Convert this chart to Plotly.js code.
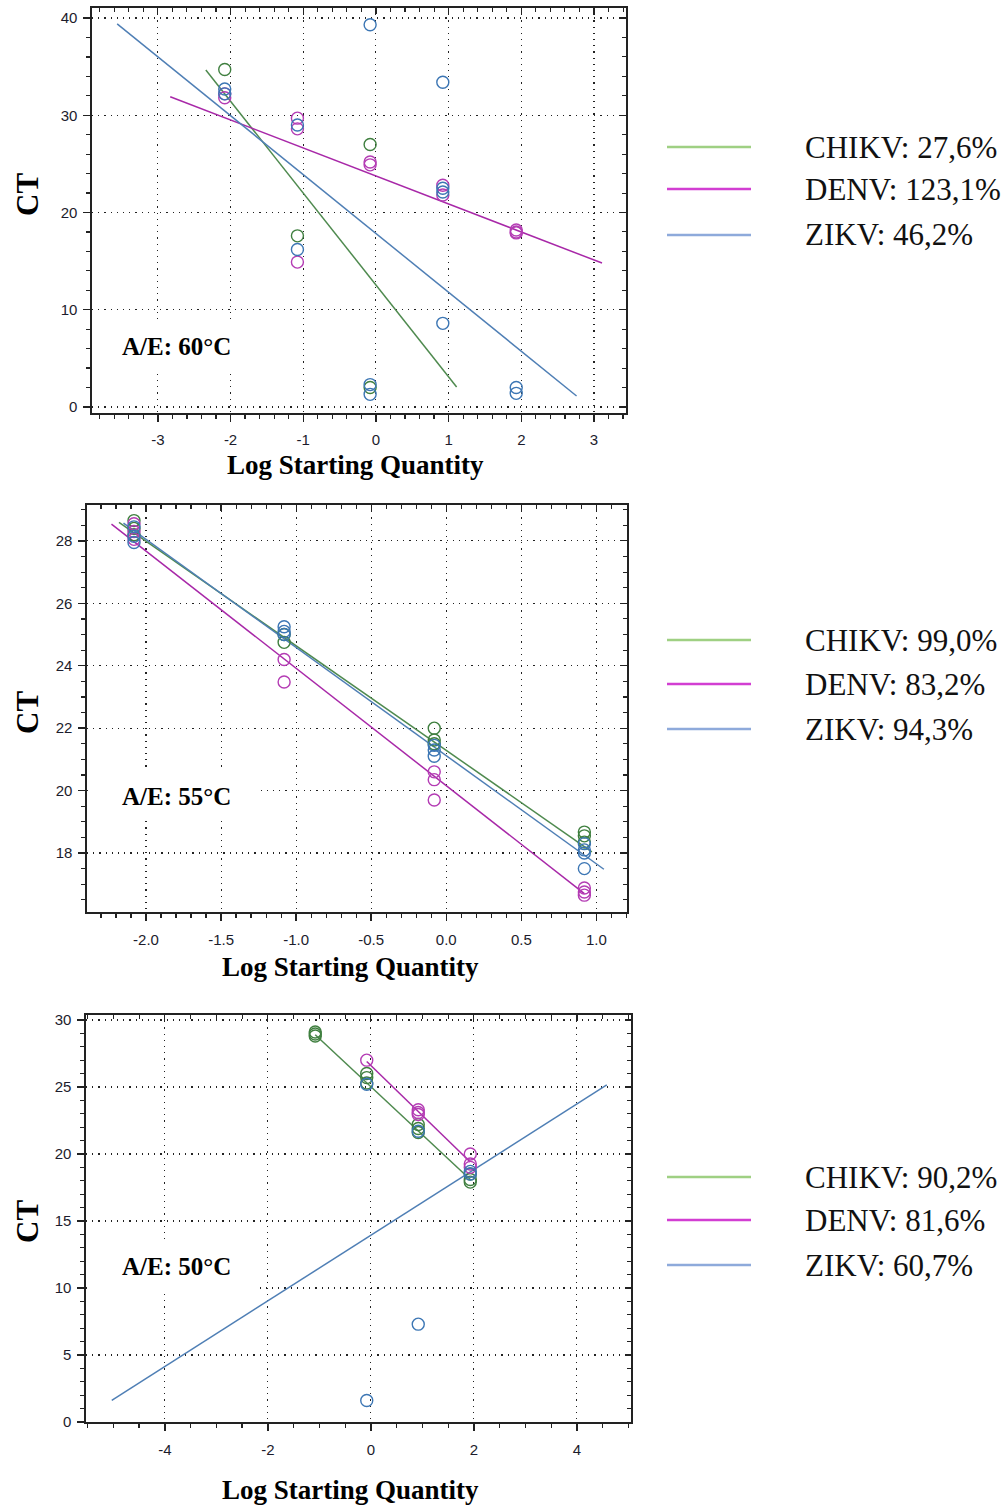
<!DOCTYPE html>
<html>
<head>
<meta charset="utf-8">
<script src="https://cdn.plot.ly/plotly-3.0.1.min.js"></script>
<style>html,body{margin:0;padding:0;background:#fff;}#chart{width:1008px;height:1506px;}</style>
</head>
<body>
<div id="chart"></div>
<script>
// ---------- DATA ----------
// Panel A/E 60°C
const p60ChikvX = [-2.08, -1.08, -0.08, -0.08];
const p60ChikvY = [34.7, 17.6, 27.0, 2.0];
const p60DenvX = [-2.08, -2.08, -1.08, -1.08, -1.08, -0.08, -0.08, 0.92, 0.92, 1.93, 1.93, 1.93];
const p60DenvY = [31.8, 32.2, 29.7, 28.6, 14.9, 25.2, 24.9, 22.8, 21.8, 18.2, 17.9, 18.0];
const p60ZikvX = [-2.08, -2.08, -1.08, -1.08, -0.08, -0.08, -0.08, 0.92, 0.92, 0.92, 0.92, 1.93, 1.93];
const p60ZikvY = [32.7, 32.2, 29.0, 16.2, 39.3, 2.3, 1.3, 33.4, 22.5, 22.1, 8.6, 2.0, 1.4];
const p60ChikvFitX = [-2.34, 1.11];
const p60ChikvFitY = [34.65, 2.06];
const p60DenvFitX = [-2.83, 3.11];
const p60DenvFitY = [31.9, 14.8];
const p60ZikvFitX = [-3.56, 2.76];
const p60ZikvFitY = [39.4, 1.13];

// Panel A/E 55°C
const p55ChikvX = [-2.08, -2.08, -2.08, -1.08, -1.08, -0.08, -0.08, -0.08, 0.92, 0.92, 0.92];
const p55ChikvY = [28.65, 28.4, 28.2, 25.0, 24.75, 22.0, 21.62, 21.5, 18.67, 18.55, 18.35];
const p55DenvX = [-2.08, -2.08, -2.08, -1.08, -1.08, -0.08, -0.08, -0.08, 0.92, 0.92, 0.92];
const p55DenvY = [28.55, 28.3, 28.05, 24.2, 23.48, 20.6, 20.35, 19.7, 16.88, 16.75, 16.65];
const p55ZikvX = [-2.08, -2.08, -2.08, -1.08, -1.08, -1.08, -0.08, -0.08, -0.08, 0.92, 0.92, 0.92, 0.92];
const p55ZikvY = [28.45, 28.15, 27.95, 25.25, 25.1, 25.0, 21.45, 21.3, 21.1, 18.3, 18.1, 18.0, 17.5];
const p55ChikvFitX = [-2.18, 0.97];
const p55ChikvFitY = [28.59, 18.04];
const p55DenvFitX = [-2.23, 0.92];
const p55DenvFitY = [28.54, 16.7];
const p55ZikvFitX = [-2.15, 1.05];
const p55ZikvFitY = [28.57, 17.48];

// Panel A/E 50°C
const p50ChikvX = [-1.08, -1.08, -1.08, -0.08, -0.08, -0.08, 0.92, 0.92, 0.92, 1.93, 1.93, 1.93];
const p50ChikvY = [29.1, 28.95, 28.8, 26.0, 25.7, 25.3, 22.2, 21.9, 21.6, 18.5, 18.1, 17.9];
const p50DenvX = [-0.08, 0.92, 0.92, 0.92, 1.93, 1.93, 1.93];
const p50DenvY = [27.0, 23.3, 23.1, 22.95, 20.0, 19.25, 19.0];
const p50ZikvX = [-0.08, -0.08, 0.92, 0.92, 1.93, 1.93];
const p50ZikvY = [1.6, 25.2, 7.3, 21.7, 18.7, 18.5];
const p50ChikvFitX = [-1.08, 1.93];
const p50ChikvFitY = [28.9, 18.1];
const p50DenvFitX = [-0.08, 1.93];
const p50DenvFitY = [26.9, 19.4];
const p50ZikvFitX = [-5.03, 4.58];
const p50ZikvFitY = [1.62, 25.15];

// Legend texts
const legend60 = ['CHIKV: 27,6%', 'DENV: 123,1%', 'ZIKV: 46,2%'];
const legend55 = ['CHIKV: 99,0%', 'DENV: 83,2%', 'ZIKV: 94,3%'];
const legend50 = ['CHIKV: 90,2%', 'DENV: 81,6%', 'ZIKV: 60,7%'];
const panelLabels = ['A/E: 60°C', 'A/E: 55°C', 'A/E: 50°C'];

// Tick values / labels
const t60X = [-3, -2, -1, 0, 1, 2, 3];
const t60XLab = ['-3', '-2', '-1', '0', '1', '2', '3'];
const t60Y = [0, 10, 20, 30, 40];
const t60YLab = ['0', '10', '20', '30', '40'];
const t55X = [-2.0, -1.5, -1.0, -0.5, 0.0, 0.5, 1.0];
const t55XLab = ['-2.0', '-1.5', '-1.0', '-0.5', '0.0', '0.5', '1.0'];
const t55Y = [18, 20, 22, 24, 26, 28];
const t55YLab = ['18', '20', '22', '24', '26', '28'];
const t50X = [-4, -2, 0, 2, 4];
const t50XLab = ['-4', '-2', '0', '2', '4'];
const t50Y = [0, 5, 10, 15, 20, 25, 30];
const t50YLab = ['0', '5', '10', '15', '20', '25', '30'];

// ---------- STYLE ----------
const W = 1008, H = 1506;
const px = v => v / W;
const py = v => 1 - v / H;

const ptCol = ['#3f7f3f', '#b43cb4', '#3c76b4'];
const lnCol = ['#4f8a4f', '#a828a8', '#4f7fb5'];
const lgCol = ['#9fd083', '#d23ed2', '#8eaadb'];
const tickFont = {family: 'Liberation Sans Narrow, Arial Narrow, Liberation Sans, sans-serif', size: 15, color: '#1c1c2c'};
const serif = 'Liberation Serif, Times New Roman, serif';

const panels = [
  {left: 92, xd: [px(92), px(626)], yd: [py(413), py(8)], xr: [-3.906, 3.44], yr: [-0.62, 41.03],
   tx: t60X, txl: t60XLab, ty: t60Y, tyl: t60YLab, mx: 0.2, my: 2,
   pts: [[p60ChikvX, p60ChikvY], [p60DenvX, p60DenvY], [p60ZikvX, p60ZikvY]],
   fits: [[p60ChikvFitX, p60ChikvFitY], [p60DenvFitX, p60DenvFitY], [p60ZikvFitX, p60ZikvFitY]],
   legend: legend60, legY: [147, 189, 235], box: [322, 370], ctY: 195, lsqY: 465, lsqX: 355, xstand: 5},
  {left: 87, xd: [px(87), px(627)], yd: [py(912), py(505)], xr: [-2.393, 1.204], yr: [16.11, 29.15],
   tx: t55X, txl: t55XLab, ty: t55Y, tyl: t55YLab, mx: 0.1, my: 0.5,
   pts: [[p55ChikvX, p55ChikvY], [p55DenvX, p55DenvY], [p55ZikvX, p55ZikvY]],
   fits: [[p55ChikvFitX, p55ChikvFitY], [p55DenvFitX, p55DenvFitY], [p55ZikvFitX, p55ZikvFitY]],
   legend: legend55, legY: [640, 684, 729], box: [772, 820], ctY: 713, lsqY: 967, lsqX: 350, xstand: 6},
  {left: 86, xd: [px(86), px(631)], yd: [py(1422), py(1015)], xr: [-5.53, 5.05], yr: [0, 30.37],
   tx: t50X, txl: t50XLab, ty: t50Y, tyl: t50YLab, mx: 0.5, my: 1,
   pts: [[p50ChikvX, p50ChikvY], [p50DenvX, p50DenvY], [p50ZikvX, p50ZikvY]],
   fits: [[p50ChikvFitX, p50ChikvFitY], [p50DenvFitX, p50DenvFitY], [p50ZikvFitX, p50ZikvFitY]],
   legend: legend50, legY: [1177, 1220, 1265], box: [1240, 1292], ctY: 1222, lsqY: 1490, lsqX: 350, xstand: 6}
];

const data = [];
const layout = {
  width: W, height: H,
  margin: {l: 0, r: 0, t: 0, b: 0},
  paper_bgcolor: '#fff', plot_bgcolor: '#fff',
  showlegend: false,
  shapes: [], annotations: []
};

const gridStyle = {showgrid: true, gridcolor: '#222', gridwidth: 1.1, griddash: '1.2px,5px'};

panels.forEach((p, i) => {
  const n = i + 1;
  const sx = n === 1 ? '' : String(n);
  const xk = 'x' + sx, yk = 'y' + sx;
  const on = i + 4; // overlay axes for top/right inside ticks
  const ox = 'x' + on, oy = 'y' + on;

  layout['xaxis' + sx] = Object.assign({
    domain: p.xd, range: p.xr, anchor: yk, zeroline: false,
    showline: true, linecolor: '#222', linewidth: 1.6,
    ticks: 'outside', ticklen: 7, tickwidth: 1.4, tickcolor: '#222',
    tickmode: 'array', tickvals: p.tx, ticktext: p.txl, tickfont: tickFont,
    ticklabelstandoff: p.xstand,
    minor: {tickmode: 'linear', tick0: 0, dtick: p.mx, ticks: 'outside', ticklen: 4, tickwidth: 1.2, tickcolor: '#222', showgrid: false}
  }, gridStyle);
  layout['yaxis' + sx] = Object.assign({
    domain: p.yd, range: p.yr, anchor: xk, zeroline: false,
    showline: true, linecolor: '#222', linewidth: 1.6,
    ticks: 'outside', ticklen: 7, tickwidth: 1.4, tickcolor: '#222',
    tickmode: 'array', tickvals: p.ty, ticktext: p.tyl, tickfont: tickFont,
    ticklabelstandoff: 3,
    minor: {tickmode: 'linear', tick0: 0, dtick: p.my, ticks: 'outside', ticklen: 4, tickwidth: 1.2, tickcolor: '#222', showgrid: false}
  }, gridStyle);
  layout['xaxis' + on] = {
    overlaying: xk, side: 'top', anchor: oy, range: p.xr, showgrid: false, zeroline: false,
    showline: true, linecolor: '#222', linewidth: 1.6, showticklabels: false,
    ticks: 'inside', ticklen: 6, tickwidth: 1.2, tickcolor: '#222', tickmode: 'array', tickvals: p.tx,
    minor: {tickmode: 'linear', tick0: 0, dtick: p.mx, ticks: 'inside', ticklen: 4, tickwidth: 1.1, tickcolor: '#222'}
  };
  layout['yaxis' + on] = {
    overlaying: yk, side: 'right', anchor: ox, range: p.yr, showgrid: false, zeroline: false,
    showline: true, linecolor: '#222', linewidth: 1.6, showticklabels: false,
    ticks: 'inside', ticklen: 6, tickwidth: 1.2, tickcolor: '#222', tickmode: 'array', tickvals: p.ty,
    minor: {tickmode: 'linear', tick0: 0, dtick: p.my, ticks: 'inside', ticklen: 4, tickwidth: 1.1, tickcolor: '#222'}
  };
  data.push({type: 'scatter', mode: 'markers', x: [null], y: [null], xaxis: ox, yaxis: oy, hoverinfo: 'skip', showlegend: false});

  // fit lines
  p.fits.forEach((f, k) => {
    data.push({type: 'scatter', mode: 'lines', x: f[0], y: f[1], xaxis: xk, yaxis: yk,
      line: {color: lnCol[k], width: 1.5}, showlegend: false, cliponaxis: false});
  });
  // points
  p.pts.forEach((s, k) => {
    data.push({type: 'scatter', mode: 'markers', x: s[0], y: s[1], xaxis: xk, yaxis: yk,
      marker: {symbol: 'circle-open', size: 12, color: ptCol[k], line: {width: 1.4, color: ptCol[k]}},
      showlegend: false});
  });

  // white box behind the temperature label (keeps the axis line visible)
  layout.shapes.push({type: 'rect', xref: 'paper', yref: 'paper', layer: 'above',
    x0: px(p.left + 2), x1: px(257), y0: py(p.box[1]), y1: py(p.box[0]),
    fillcolor: '#fff', line: {width: 0}});
  layout.annotations.push({xref: 'paper', yref: 'paper', x: px(176), y: py((p.box[0] + p.box[1]) / 2),
    xanchor: 'center', yanchor: 'middle', showarrow: false, text: '<b>' + panelLabels[i] + '</b>',
    font: {family: serif, size: 25, color: '#000'}});

  // axis titles
  layout.annotations.push({xref: 'paper', yref: 'paper', x: px(27), y: py(p.ctY), xanchor: 'center', yanchor: 'middle',
    showarrow: false, textangle: -90, text: '<b>CT</b>', font: {family: serif, size: 31, color: '#000'}});
  layout.annotations.push({xref: 'paper', yref: 'paper', x: px(p.lsqX), y: py(p.lsqY), xanchor: 'center', yanchor: 'middle',
    showarrow: false, text: '<b>Log Starting Quantity</b>', font: {family: serif, size: 27, color: '#000'}});

  // legend
  p.legend.forEach((txt, k) => {
    layout.shapes.push({type: 'line', xref: 'paper', yref: 'paper', x0: px(667), x1: px(751),
      y0: py(p.legY[k]), y1: py(p.legY[k]), line: {color: lgCol[k], width: 2.5}});
    layout.annotations.push({xref: 'paper', yref: 'paper', x: px(803), y: py(p.legY[k]), xanchor: 'left', yanchor: 'middle',
      showarrow: false, text: txt, font: {family: serif, size: 31, color: '#111'}});
  });
});

Plotly.newPlot('chart', data, layout, {staticPlot: true, displayModeBar: false});
</script>
</body>
</html>
